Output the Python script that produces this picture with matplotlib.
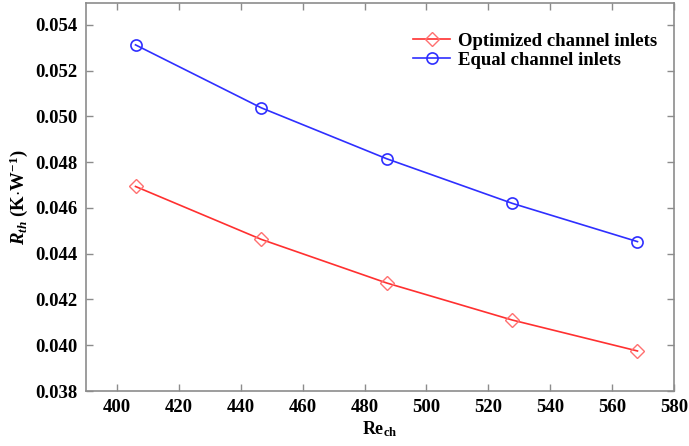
import matplotlib
matplotlib.use("Agg")
import matplotlib.pyplot as plt

plt.rcParams['font.family'] = ['Liberation Serif', 'DejaVu Serif']
plt.rcParams['font.weight'] = 'bold'
plt.rcParams['axes.labelweight'] = 'bold'
plt.rcParams['mathtext.fontset'] = 'custom'
plt.rcParams['mathtext.rm'] = 'Liberation Serif:bold'
plt.rcParams['mathtext.it'] = 'Liberation Serif:bold:italic'
plt.rcParams['mathtext.bf'] = 'Liberation Serif:bold'

# Reynolds number of the channel and thermal resistance
re_ch = [406.0, 446.6, 487.2, 527.8, 568.2]
rth_optimized = [0.04694, 0.04463, 0.04272, 0.04110, 0.03975]
rth_equal = [0.05313, 0.05038, 0.04815, 0.04620, 0.04453]

fig = plt.figure(figsize=(6.89, 4.46), dpi=100)
ax = fig.add_axes([0.1248, 0.1233, 0.8534, 0.87])

ax.plot(re_ch, rth_optimized, color='#ff3030', lw=1.2, marker='D',
        markersize=7, markerfacecolor='none', markeredgecolor='#ff7070',
        markeredgewidth=1.0, label='Optimized channel inlets')
ax.plot(re_ch, rth_equal, color='#2f2fff', lw=1.2, marker='o',
        markersize=8, markerfacecolor='none', markeredgecolor='#2f2fff',
        markeredgewidth=1.2, label='Equal channel inlets')

ax.set_xlim(390, 580)
ax.set_ylim(0.038, 0.05496)
ax.set_xticks(range(400, 581, 20))
ax.set_yticks([0.038, 0.040, 0.042, 0.044, 0.046, 0.048, 0.050, 0.052, 0.054])
ax.set_yticklabels(['%.3f' % v for v in ax.get_yticks()])

for s in ax.spines.values():
    s.set_color('#8c8c8c')
    s.set_linewidth(1.2)
ax.tick_params(direction='in', length=5, width=1, color='#8c8c8c',
               top=True, right=True, labelsize=13.5, pad=6)

ax.set_xlabel(r'Re$_{\mathrm{ch}}$', fontsize=13, labelpad=2)
ax.set_ylabel(r'$R_{th}$ (K$\cdot$W$^{\mathrm{-1}}$)', fontsize=13.5, labelpad=4)

leg = ax.legend(loc='upper right', frameon=False, fontsize=13.5,
                bbox_to_anchor=(1.0, 0.967), handlelength=2.0,
                handletextpad=0.4, labelspacing=0.1)

fig.savefig('out.png', dpi=100)
